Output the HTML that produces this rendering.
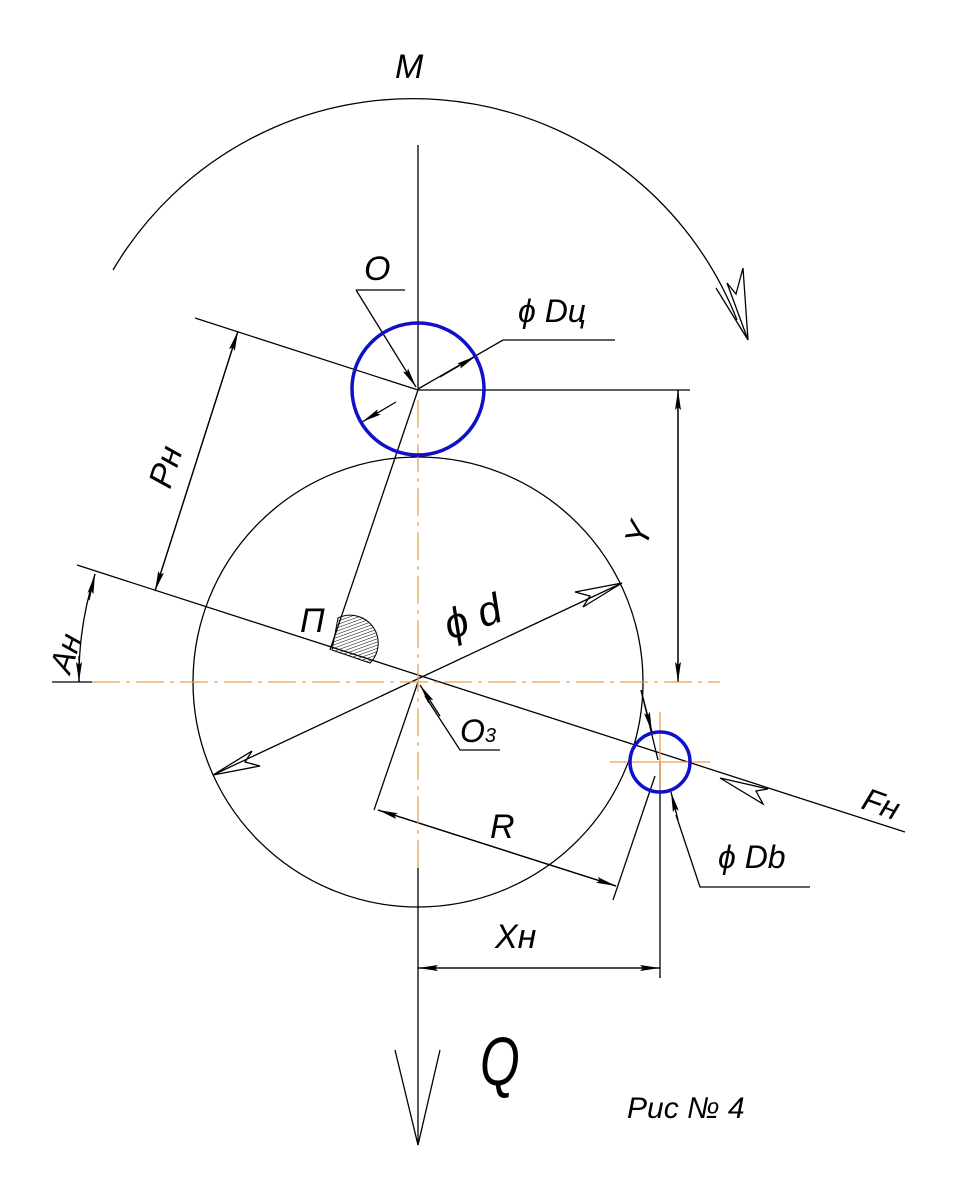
<!DOCTYPE html>
<html><head><meta charset="utf-8"><style>
html,body{margin:0;padding:0;background:#fff}
svg{display:block}
text{font-family:"Liberation Sans",sans-serif;font-style:italic;fill:#000}
</style></head><body>
<svg width="953" height="1188" viewBox="0 0 953 1188" xmlns="http://www.w3.org/2000/svg">
<defs>
<marker id="a" viewBox="0 0 20 8" refX="20" refY="4" markerWidth="20" markerHeight="8" markerUnits="userSpaceOnUse" orient="auto"><path d="M0,1 L20,4 L0,7 L3,4Z" fill="#000"/></marker>
<pattern id="h" width="3" height="3" patternUnits="userSpaceOnUse" patternTransform="rotate(70)"><line x1="0" y1="0" x2="0" y2="3" stroke="#000" stroke-width="1"/></pattern>
</defs>
<g stroke="#000" stroke-width="1.3" fill="none">
<path d="M113,270 A348,348 0 0 1 737,320"/>
<path d="M716,288 L748,340 L727,283 L736,294 L743,268 L748,340" />
<line x1="418" y1="145" x2="418" y2="390"/>
<line x1="418" y1="868" x2="418" y2="1145"/>
<path d="M395,1050 L418,1145 L440,1050"/>
<circle cx="418" cy="682" r="225"/>
<line x1="195" y1="318" x2="418" y2="390"/>
<line x1="77" y1="565" x2="905" y2="832"/>
<line x1="238" y1="331" x2="155" y2="591" marker-end="url(#a)"/>
<line x1="155" y1="591" x2="238" y2="331" marker-end="url(#a)"/>
<line x1="418" y1="390" x2="330" y2="650"/>
<line x1="418" y1="390" x2="690" y2="390"/>
<line x1="678" y1="390" x2="678" y2="682" marker-end="url(#a)"/>
<line x1="678" y1="682" x2="678" y2="390" marker-end="url(#a)"/>
<line x1="52" y1="682" x2="92" y2="682"/>
<path d="M95,574 A340,340 0 0 0 79,682" />
<line x1="89" y1="600" x2="95" y2="574" marker-end="url(#a)"/>
<line x1="79" y1="656" x2="79" y2="682" marker-end="url(#a)"/>
<line x1="213" y1="775" x2="622" y2="583"/>
<path d="M622,583 L575,592 L590,596 L583,607Z"/>
<path d="M213,775 L260,766 L245,762 L252,751Z"/>
<path d="M356,290 L405,290"/>
<line x1="356" y1="290" x2="416" y2="387" marker-end="url(#a)"/>
<path d="M615,340 L503,340 L418,389"/>
<line x1="440" y1="377" x2="476" y2="356" marker-end="url(#a)"/>
<line x1="396" y1="402" x2="362" y2="422" marker-end="url(#a)"/>
<path d="M500,750 L460,750 L425,696"/>
<line x1="440" y1="716" x2="420" y2="685" marker-end="url(#a)"/>
<line x1="418" y1="682" x2="374" y2="810"/>
<line x1="378" y1="810" x2="616" y2="886"/>
<line x1="497" y1="848" x2="378" y2="810" marker-end="url(#a)"/>
<line x1="497" y1="848" x2="616" y2="886" marker-end="url(#a)"/>
<line x1="655" y1="776" x2="613" y2="900"/>
<line x1="641" y1="690" x2="658" y2="760"/>
<line x1="641" y1="690" x2="652" y2="732" marker-end="url(#a)"/>
<path d="M810,887 L700,887 L676,815"/>
<line x1="678" y1="820" x2="671" y2="792" marker-end="url(#a)"/>
<path d="M720,778 L768,789 L756,791 L763,804Z"/>
<line x1="660" y1="762" x2="660" y2="978"/>
<line x1="418" y1="968" x2="660" y2="968" marker-end="url(#a)"/>
<line x1="660" y1="968" x2="418" y2="968" marker-end="url(#a)"/>
</g>
<path d="M332,650 L338,618 A28,28 0 0 1 370,663Z" fill="url(#h)" stroke="#000" stroke-width="1"/>
<g stroke="#e8a050" stroke-width="1.3" fill="none">
<line x1="418" y1="400" x2="418" y2="868" stroke-dasharray="28,6,4,6"/>
<line x1="92" y1="682" x2="720" y2="682" stroke-dasharray="28,6,4,6"/>
<line x1="610" y1="762" x2="710" y2="762"/>
<line x1="660" y1="712" x2="660" y2="792"/>
</g>
<g stroke="#1010c8" stroke-width="3.5" fill="none">
<circle cx="418" cy="389" r="66"/>
<circle cx="660" cy="762" r="30"/>
</g>
<g font-size="36">
<text x="395" y="78" font-size="34">M</text>
<text x="364" y="280" font-size="34">O</text>
<text x="518" y="322" font-size="32">ϕ Dц</text>
<text x="0" y="0" transform="translate(170,490) rotate(-72)" font-size="34">Pн</text>
<text x="0" y="0" transform="translate(646,548) rotate(-72)" font-size="34">Y</text>
<text x="0" y="0" transform="translate(70,675) rotate(-72)" font-size="32">Aн</text>
<text x="300" y="632" font-size="34">П</text>
<text x="0" y="0" transform="translate(450,640) rotate(-20)" font-size="42">ϕ  d</text>
<text x="460" y="742" font-size="32">O<tspan font-size="20">3</tspan></text>
<text x="490" y="838" font-size="34">R</text>
<text x="860" y="808" font-size="32" transform="rotate(20 860 808)">Fн</text>
<text x="718" y="868" font-size="32">ϕ Db</text>
<text x="495" y="948" font-size="34">Xн</text>
<text x="480" y="1085" font-size="60" transform="translate(480 1085) scale(0.85 1.15) translate(-480 -1085)">Q</text>
<text x="627" y="1118" font-size="30">Рuс № 4</text>
</g>
</svg>
</body></html>
